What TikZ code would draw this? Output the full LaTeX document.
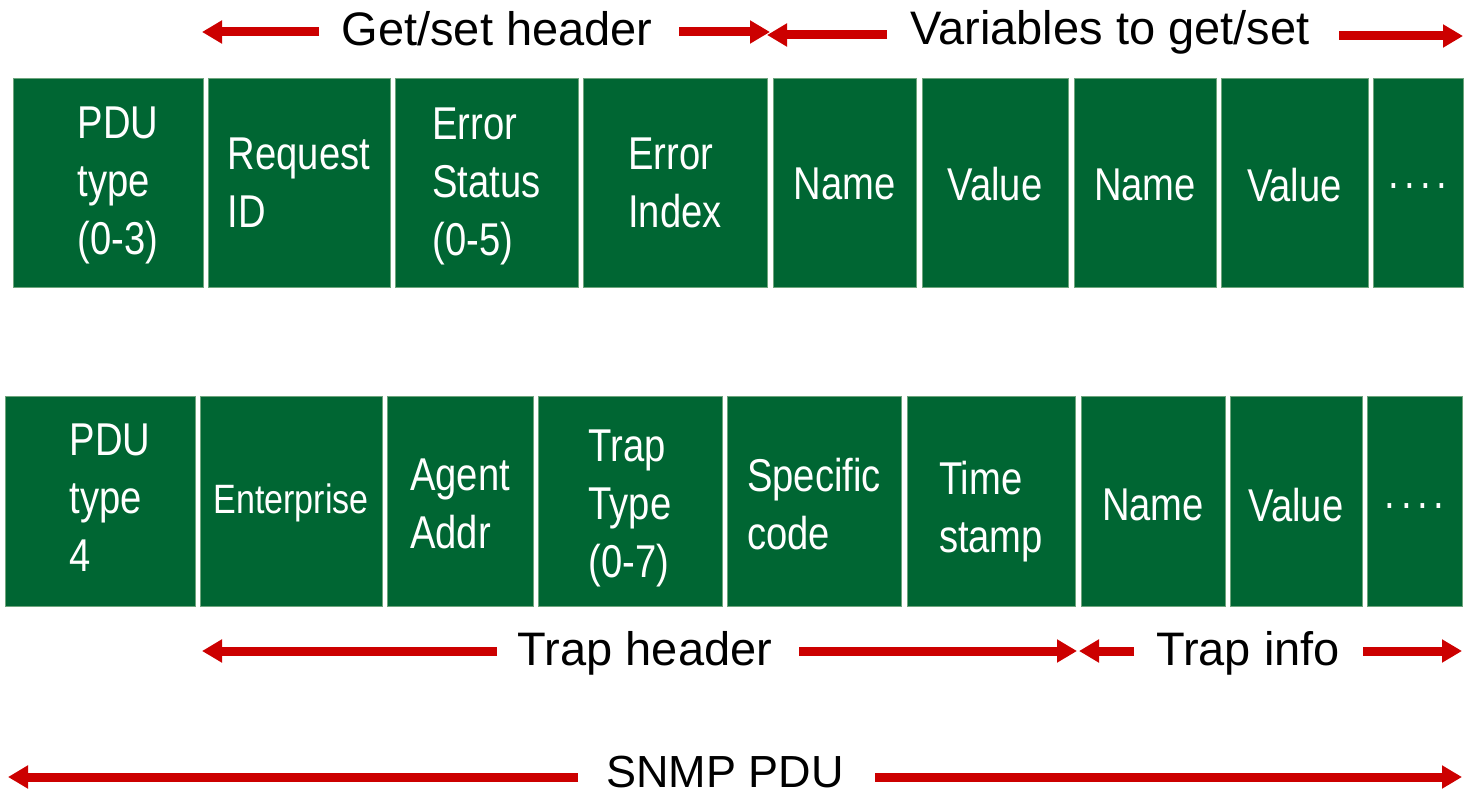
\documentclass[tikz,border=0pt]{standalone}
\usepackage{fontspec}
\setmainfont{Liberation Sans}
\newfontfamily\boxfont{Liberation Sans}[FakeStretch=0.83]
\usetikzlibrary{arrows.meta}
\definecolor{pdugreen}{RGB}{0,102,51}
\definecolor{pduedge}{RGB}{110,165,125}
\definecolor{pdured}{RGB}{204,0,0}
\begin{document}
\begin{tikzpicture}[x=1pt,y=-1pt,
  field/.style={fill=pdugreen,draw=pduedge,line width=0.8pt,inner sep=0pt,minimum height=#1},
  field/.default=209pt,
  ftext/.style={text=white,inner sep=0pt,align=left,font=\boxfont\fontsize{46}{58}\selectfont},
  stext/.style={text=white,inner sep=0pt,font=\boxfont\fontsize{41}{50}\selectfont},
  hlabel/.style={text=black,inner sep=0pt,anchor=base,font=\fontsize{47}{56}\selectfont},
  redarrow/.style={draw=pdured,line width=9pt,-{Triangle[length=20pt,width=22pt]}}]
\useasboundingbox (0,0) rectangle (1464,794);

% ---- top row ----
\node[field,minimum width=190pt] (t1) at (108,182.5) {};
\node[field,minimum width=182pt] (t2) at (299,182.5) {};
\node[field,minimum width=183pt] (t3) at (486.5,182.5) {};
\node[field,minimum width=184pt] (t4) at (675,182.5) {};
\node[field,minimum width=143pt] (t5) at (844.5,182.5) {};
\node[field,minimum width=146pt] (t6) at (995,182.5) {};
\node[field,minimum width=142pt] (t7) at (1145,182.5) {};
\node[field,minimum width=147pt] (t8) at (1294.5,182.5) {};
\node[field,minimum width=90pt] (t9) at (1418,182.5) {};

\node[ftext,xshift=10pt,yshift=-3pt] (t1l) at (t1.center) {PDU\\type\\(0-3)};
\node[ftext] (t2l) at (t2.center) {Request\\ID};
\node[ftext,yshift=-4pt] (t3l) at (t3.center) {Error\\Status\\(0-5)};
\node[ftext] (t4l) at (t4.center) {Error\\Index};
\node[ftext,yshift=-1pt] (t5l) at (t5.center) {Name};
\node[ftext,yshift=-2pt] (t6l) at (t6.center) {Value};
\node[ftext,yshift=-2pt] (t7l) at (t7.center) {Name};
\node[ftext,yshift=-3pt] (t8l) at (t8.center) {Value};
\node[ftext,yshift=-8.5pt] (t9l) at (t9.center) {·\hspace{3.4pt}·\hspace{3.4pt}·\hspace{3.4pt}·};

% ---- bottom row ----
\node[field=210pt,minimum width=190pt] (b1) at (100,501) {};
\node[field=210pt,minimum width=182pt] (b2) at (291,501) {};
\node[field=210pt,minimum width=146pt] (b3) at (460,501) {};
\node[field=210pt,minimum width=184pt] (b4) at (630,501) {};
\node[field=210pt,minimum width=174pt] (b5) at (814,501) {};
\node[field=210pt,minimum width=168pt] (b6) at (991,501) {};
\node[field=210pt,minimum width=144pt] (b7) at (1153,501) {};
\node[field=210pt,minimum width=132pt] (b8) at (1296,501) {};
\node[field=210pt,minimum width=95pt] (b9) at (1414.5,501) {};

\node[ftext,xshift=10pt,yshift=3pt] (b1l) at (b1.center) {PDU\\type\\4};
\node[stext,yshift=-1.5pt] (b2l) at (b2.center) {Enterprise};
\node[ftext,yshift=-3pt] (b3l) at (b3.center) {Agent\\Addr};
\node[ftext,yshift=-7pt] (b4l) at (b4.center) {Trap\\Type\\(0-7)};
\node[ftext,yshift=-3pt] (b5l) at (b5.center) {Specific\\code};
\node[ftext,yshift=-11pt] (b6l) at (b6.center) {Time\\stamp};
\node[ftext,yshift=-3.5pt] (b7l) at (b7.center) {Name};
\node[ftext,yshift=-4.5pt] (b8l) at (b8.center) {Value};
\node[ftext,yshift=-10pt] (b9l) at (b9.center) {·\hspace{3.4pt}·\hspace{3.4pt}·\hspace{3.4pt}·};

% ---- labels ----
\node[hlabel] (gs) at (497,46) {Get/set header};
\node[hlabel] (vg) at (1110,45) {Variables to get/set};
\node[hlabel] (th) at (645,665) {Trap header};
\node[hlabel] (ti) at (1248,665) {Trap info};
\node[hlabel,font=\fontsize{45}{54}\selectfont] (sn) at (725,787) {SNMP PDU};

% ---- arrow end points ----
\coordinate (gsA) at (319,32);  \coordinate (gsB) at (202,32);
\coordinate (gsC) at (679,32);  \coordinate (gsD) at (770,32);
\coordinate (vgA) at (887,35);  \coordinate (vgB) at (767,35);
\coordinate (vgC) at (1339,36); \coordinate (vgD) at (1463,36);
\coordinate (thA) at (497,651); \coordinate (thB) at (202,651);
\coordinate (thC) at (799,651); \coordinate (thD) at (1077,651);
\coordinate (tiA) at (1134,651); \coordinate (tiB) at (1079,651);
\coordinate (tiC) at (1363,651); \coordinate (tiD) at (1462,651);
\coordinate (snA) at (578,777); \coordinate (snB) at (8,777);
\coordinate (snC) at (875,777); \coordinate (snD) at (1462,777);

\draw[redarrow] (gsA) -- (gsB);
\draw[redarrow] (gsC) -- (gsD);
\draw[redarrow] (vgA) -- (vgB);
\draw[redarrow] (vgC) -- (vgD);
\draw[redarrow] (thA) -- (thB);
\draw[redarrow] (thC) -- (thD);
\draw[redarrow] (tiA) -- (tiB);
\draw[redarrow] (tiC) -- (tiD);
\draw[redarrow] (snA) -- (snB);
\draw[redarrow] (snC) -- (snD);
\end{tikzpicture}
\end{document}
